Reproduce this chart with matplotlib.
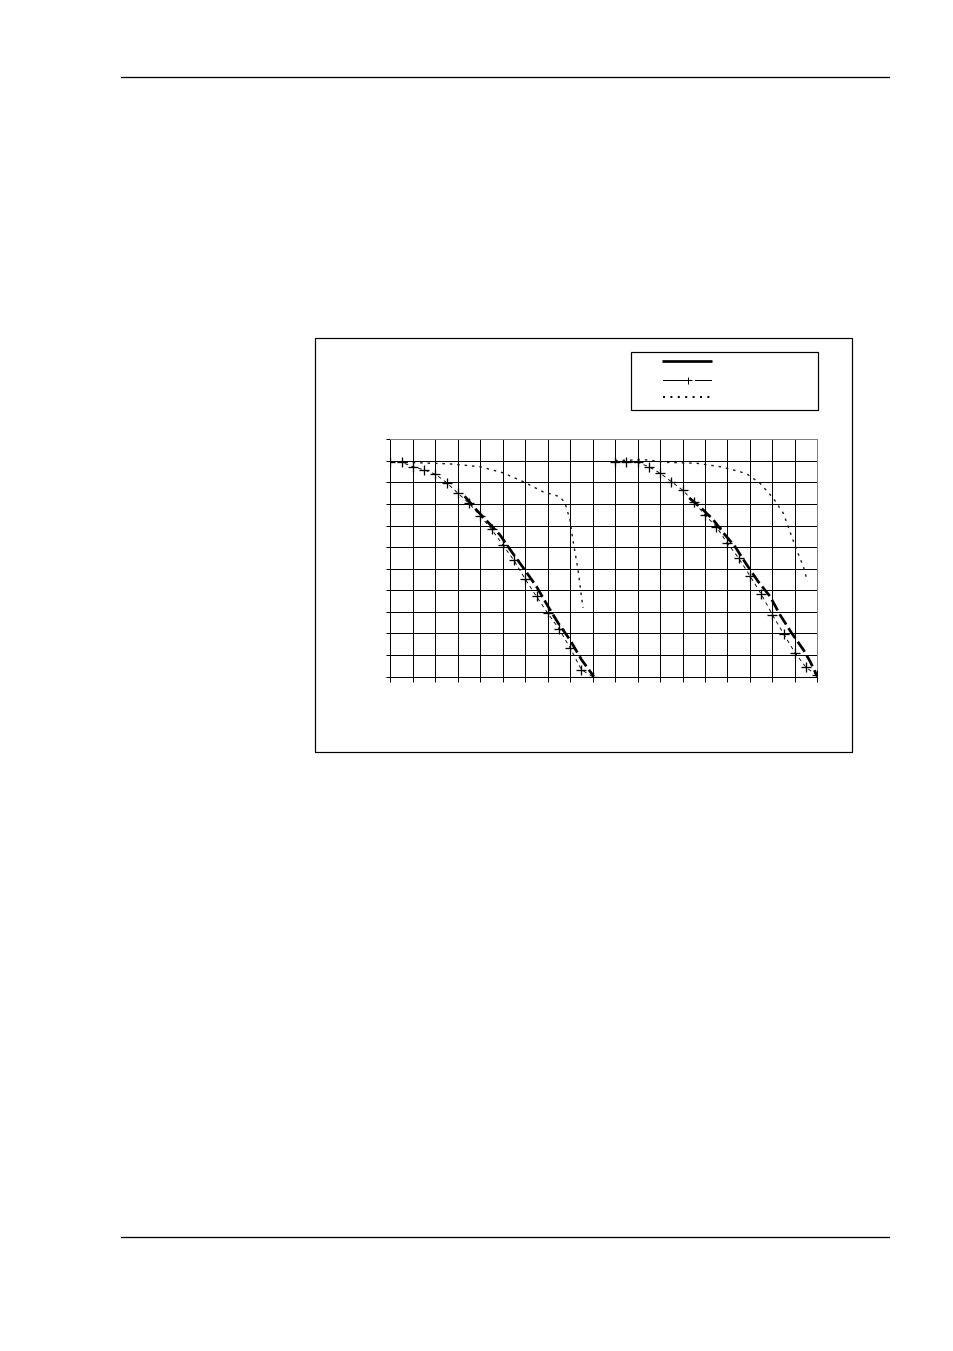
import matplotlib
matplotlib.use('Agg')
import matplotlib.pyplot as plt
from matplotlib.lines import Line2D
from matplotlib.patches import Rectangle

# ---- data (grid units: 19 columns x 11 rows) ----
# left group
plus_left_x = [0, 0.5, 1, 1.5, 2, 2.5, 3, 3.5, 4, 4.5, 5, 5.5, 6, 6.5, 7, 7.5, 8, 8.5, 9.0]
plus_left_y = [9.93, 9.93, 9.73, 9.58, 9.38, 8.99, 8.50, 8.03, 7.45, 6.83, 6.10,
               5.38, 4.51, 3.71, 2.94, 2.21, 1.32, 0.31, 0.0]
thick_left_x = [3.3, 3.83, 4.87, 5.39, 5.98, 6.5, 7.02, 7.47, 7.99, 8.51, 9.05]
thick_left_y = [8.36, 7.72, 6.57, 5.79, 4.94, 4.17, 3.24, 2.47, 1.70, 0.77, 0.0]
dot_left_x = [0, 1.0, 2.64, 3.98, 5.0, 5.9, 6.78, 7.54, 7.77, 7.99, 8.12, 8.35, 8.48, 8.57]
dot_left_y = [9.95, 9.92, 9.86, 9.73, 9.45, 9.04, 8.57, 8.34, 8.05, 7.26, 6.33, 4.94, 3.88, 3.18]

# right group
plus_right_x = [10, 10.5, 11, 11.5, 12, 12.5, 13, 13.5, 14, 14.5, 15, 15.5, 16, 16.5,
                17, 17.5, 18, 18.5, 19]
plus_right_y = [9.93, 9.93, 9.93, 9.73, 9.43, 9.04, 8.65, 8.11, 7.49, 6.95, 6.18, 5.49,
                4.67, 3.83, 2.86, 1.98, 1.11, 0.42, 0.05]
thick_right_x = [13.3, 13.85, 14.37, 14.89, 15.34, 15.86, 16.37, 16.9, 17.34, 17.86,
                 18.38, 18.68, 19.0]
thick_right_y = [8.28, 7.80, 7.26, 6.57, 6.02, 5.18, 4.40, 3.71, 2.86, 2.01, 1.24, 0.70, 0.0]
dot_right_x = [10, 11.33, 12.29, 13.63, 14.67, 15.56, 15.93, 16.45, 17.04, 17.49, 17.86,
               18.08, 18.38, 18.56]
dot_right_y = [10.02, 10.05, 9.93, 9.89, 9.73, 9.50, 9.35, 8.96, 8.27, 7.57, 6.49, 5.87,
               5.10, 4.40]

W, H = 954, 1351
px = 0.72  # one pixel in points at 100 dpi

fig = plt.figure(figsize=(W / 100, H / 100), dpi=100)
fig.patch.set_facecolor('white')

# page furniture in pixel coordinates
page = fig.add_axes([0, 0, 1, 1])
page.set_xlim(0, W)
page.set_ylim(H, 0)
page.axis('off')
page.plot([121, 889], [76.5, 76.5], color='black', lw=1.3 * px)
page.plot([121, 889], [1237.3, 1237.3], color='black', lw=1.3 * px)
page.add_patch(Rectangle((315.5, 337.5), 537, 414.5, fill=False, ec='black', lw=1.2 * px))
page.add_patch(Rectangle((631.5, 351.5), 187, 58, fill=False, ec='black', lw=1.2 * px))

# legend samples
page.add_line(Line2D([662, 712.5], [360.7, 360.7], color='black', lw=2.7 * px,
                     solid_capstyle='butt'))
page.add_line(Line2D([663, 690], [380, 380], color='black', lw=1 * px))
page.add_line(Line2D([695, 711.5], [380, 380], color='black', lw=1 * px))
page.add_line(Line2D([687.7], [380], color='black', marker='+', ms=7 * px, mew=1 * px))
page.add_line(Line2D([663.5, 710], [396.7, 396.7], color='black', lw=2 * px,
                     linestyle=(0, (1, 2.7)), dash_capstyle='butt'))

# chart
ax = fig.add_axes([390.5 / W, 1 - 676.5 / H, 426.8 / W, 237.2 / H])
ax.set_xlim(0, 19)
ax.set_ylim(0, 11)
ax.set_xticks(range(0, 20))
ax.set_yticks(range(0, 12))
ax.tick_params(direction='out', length=4.5 * px, width=1 * px, color='black',
               labelbottom=False, labelleft=False)
ax.grid(True, color='black', lw=1 * px)
ax.set_axisbelow(True)
for side in ('left', 'bottom'):
    ax.spines[side].set_color('black')
    ax.spines[side].set_linewidth(1 * px)
for side in ('top', 'right'):
    ax.spines[side].set_color('#808080')
    ax.spines[side].set_linewidth(1 * px)

for tx, ty, qx, qy, dx, dy in [
        (thick_left_x, thick_left_y, plus_left_x, plus_left_y, dot_left_x, dot_left_y),
        (thick_right_x, thick_right_y, plus_right_x, plus_right_y, dot_right_x, dot_right_y)]:
    ax.plot(dx, dy, color='#1a1a1a', lw=1.4 * px, linestyle=(0, (1.8, 3.5)), zorder=3)
    ax.plot(tx, ty, color='black', lw=2.7 * px, linestyle=(0, (4.5, 1.6)), zorder=4)
    ax.plot(qx, qy, color='black', lw=0.9 * px, linestyle=(0, (4, 4)), zorder=5)
    ax.plot(qx, qy, color='black', linestyle='none', marker='+', ms=10 * px,
            mew=1.3 * px, zorder=6)

fig.savefig('out.png', dpi=100, facecolor='white')
